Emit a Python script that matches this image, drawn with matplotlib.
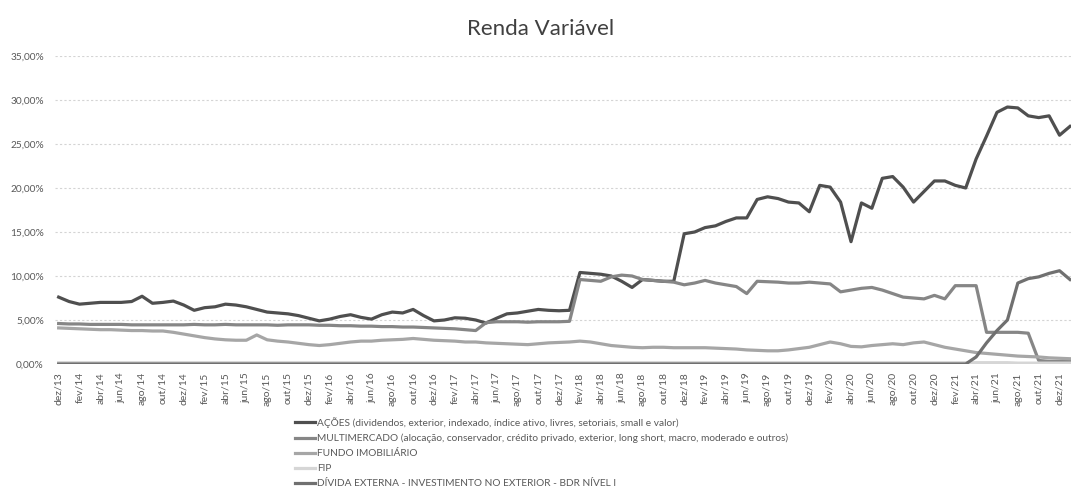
import matplotlib
matplotlib.use("Agg")
import matplotlib.pyplot as plt
import numpy as np

# ======= Data (monthly, dez/13 .. jan/22) =======
meses = ['jan', 'fev', 'mar', 'abr', 'mai', 'jun', 'jul', 'ago', 'set', 'out', 'nov', 'dez']
datas = ['dez/13'] + [f'{m}/{a}' for a in range(14, 22) for m in meses] + ['jan/22']

acoes = [7.6, 7.1, 6.8, 6.9, 7.0, 7.0, 7.0, 7.1, 7.7, 6.9, 7.0, 7.15,
         6.7, 6.1, 6.4, 6.5, 6.8, 6.7, 6.5, 6.2, 5.9, 5.8, 5.7, 5.5,
         5.2, 4.9, 5.1, 5.4, 5.6, 5.3, 5.1, 5.6, 5.9, 5.8, 6.2, 5.5,
         4.9, 5.0, 5.25, 5.2, 5.0, 4.65, 5.2, 5.7, 5.8, 6.0, 6.2, 6.1,
         6.05, 6.1, 10.4, 10.3, 10.2, 10.0, 9.4, 8.7, 9.6, 9.5, 9.4, 9.4,
         14.8, 15.0, 15.5, 15.7, 16.2, 16.6, 16.6, 18.7, 19.0, 18.8, 18.4, 18.3,
         17.3, 20.3, 20.1, 18.4, 13.9, 18.3, 17.7, 21.1, 21.3, 20.1, 18.4, 19.6,
         20.8, 20.8, 20.3, 20.0, 23.3, 25.9, 28.6, 29.2, 29.1, 28.2, 28.0, 28.2,
         26.0, 27.0]

multimercado = [4.6, 4.55, 4.55, 4.5, 4.5, 4.5, 4.5, 4.45, 4.45, 4.45, 4.45, 4.45,
                4.45, 4.5, 4.45, 4.45, 4.5, 4.45, 4.45, 4.45, 4.45, 4.4, 4.45, 4.45,
                4.45, 4.4, 4.4, 4.35, 4.35, 4.3, 4.3, 4.25, 4.25, 4.2, 4.2, 4.15,
                4.1, 4.05, 4.0, 3.9, 3.8, 4.7, 4.8, 4.8, 4.8, 4.75, 4.8, 4.8,
                4.8, 4.85, 9.6, 9.5, 9.4, 9.9, 10.1, 10.0, 9.6, 9.5, 9.4, 9.3,
                9.0, 9.2, 9.5, 9.2, 9.0, 8.8, 8.0, 9.4, 9.35, 9.3, 9.2, 9.2,
                9.3, 9.2, 9.1, 8.2, 8.4, 8.6, 8.7, 8.4, 8.0, 7.6, 7.5, 7.4,
                7.8, 7.4, 8.9, 8.9, 8.9, 3.6, 3.6, 3.6, 3.6, 3.5, 0.4, 0.3,
                0.3, 0.3]

fundo_imob = [4.1, 4.05, 4.0, 3.95, 3.9, 3.9, 3.85, 3.8, 3.8, 3.75, 3.75, 3.6,
              3.4, 3.2, 3.0, 2.85, 2.75, 2.7, 2.7, 3.3, 2.75, 2.6, 2.5, 2.35,
              2.2, 2.1, 2.2, 2.35, 2.5, 2.6, 2.6, 2.7, 2.75, 2.8, 2.9, 2.8,
              2.7, 2.65, 2.6, 2.5, 2.5, 2.4, 2.35, 2.3, 2.25, 2.2, 2.3, 2.4,
              2.45, 2.5, 2.6, 2.5, 2.3, 2.1, 2.0, 1.9, 1.85, 1.9, 1.9, 1.85,
              1.85, 1.85, 1.85, 1.8, 1.75, 1.7, 1.6, 1.55, 1.5, 1.5, 1.6, 1.75,
              1.9, 2.2, 2.5, 2.3, 2.0, 1.95, 2.1, 2.2, 2.3, 2.2, 2.4, 2.5,
              2.2, 1.9, 1.7, 1.5, 1.3, 1.2, 1.1, 1.0, 0.9, 0.85, 0.8, 0.7,
              0.65, 0.6]

fip = [0.15, 0.15, 0.15, 0.15, 0.15, 0.15, 0.15, 0.15, 0.15, 0.15, 0.15, 0.15,
       0.15, 0.15, 0.15, 0.15, 0.15, 0.15, 0.15, 0.15, 0.15, 0.15, 0.15, 0.15,
       0.15, 0.15, 0.15, 0.15, 0.15, 0.15, 0.15, 0.15, 0.15, 0.15, 0.15, 0.15,
       0.15, 0.15, 0.15, 0.15, 0.15, 0.15, 0.15, 0.15, 0.15, 0.15, 0.15, 0.15,
       0.15, 0.15, 0.15, 0.15, 0.15, 0.15, 0.15, 0.15, 0.15, 0.15, 0.15, 0.15,
       0.15, 0.15, 0.15, 0.15, 0.15, 0.15, 0.15, 0.15, 0.15, 0.15, 0.15, 0.15,
       0.15, 0.15, 0.15, 0.15, 0.15, 0.15, 0.15, 0.15, 0.15, 0.15, 0.15, 0.15,
       0.15, 0.15, 0.15, 0.15, 0.15, 0.15, 0.15, 0.15, 0.1, 0.1, 0.1, 0.1,
       0.1, 0.1]

divida_ext = [0.0, 0.0, 0.0, 0.0, 0.0, 0.0, 0.0, 0.0, 0.0, 0.0, 0.0, 0.0,
              0.0, 0.0, 0.0, 0.0, 0.0, 0.0, 0.0, 0.0, 0.0, 0.0, 0.0, 0.0,
              0.0, 0.0, 0.0, 0.0, 0.0, 0.0, 0.0, 0.0, 0.0, 0.0, 0.0, 0.0,
              0.0, 0.0, 0.0, 0.0, 0.0, 0.0, 0.0, 0.0, 0.0, 0.0, 0.0, 0.0,
              0.0, 0.0, 0.0, 0.0, 0.0, 0.0, 0.0, 0.0, 0.0, 0.0, 0.0, 0.0,
              0.0, 0.0, 0.0, 0.0, 0.0, 0.0, 0.0, 0.0, 0.0, 0.0, 0.0, 0.0,
              0.0, 0.0, 0.0, 0.0, 0.0, 0.0, 0.0, 0.0, 0.0, 0.0, 0.0, 0.0,
              0.0, 0.0, 0.0, 0.0, 0.8, 2.4, 3.8, 5.0, 9.2, 9.7, 9.9, 10.3,
              10.6, 9.6]

nomes = ['AÇÕES (dividendos, exterior, indexado, índice ativo, livres, setoriais, small e valor)',
         'MULTIMERCADO (alocação, conservador, crédito privado, exterior, long short, macro, moderado e outros)',
         'FUNDO IMOBILIÁRIO',
         'FIP',
         'DÍVIDA EXTERNA - INVESTIMENTO NO EXTERIOR - BDR NÍVEL I']
cores = ['#4f4f4f', '#868686', '#a6a6a6', '#d6d6d6', '#707070']

plt.rcParams['font.family'] = ['Lato', 'DejaVu Sans']
texto = '#595959'

fig = plt.figure(figsize=(10.71, 5.04), dpi=100)
ax = fig.add_axes([55 / 1071, 1 - 364 / 504, 1 - 55 / 1071, (364 - 56) / 504])

x = np.arange(len(datas))
series = [acoes, multimercado, fundo_imob, fip, divida_ext]
for serie, nome, cor in zip(series, nomes, cores):
    ax.plot(x, serie, color=cor, lw=2.3, label=nome, solid_joinstyle='round')

ax.set_xlim(-0.35, 97.1)
ax.set_ylim(0, 35)
ax.set_yticks(range(0, 36, 5))
ax.set_yticklabels([f'{v},00%' for v in range(0, 36, 5)], fontsize=7.3, color=texto)
ax.set_xticks(x[::2])
ax.set_xticklabels(datas[::2], rotation=90, fontsize=7.5, color=texto)
ax.tick_params(axis='both', length=0)
ax.tick_params(axis='y', pad=8)
ax.tick_params(axis='x', pad=6)
ax.grid(axis='y', color='#d4d4d4', lw=0.8, linestyle=(0, (2, 2)))
ax.set_axisbelow(True)
for s in ax.spines.values():
    s.set_visible(False)

fig.text(0.505, 1 - 29 / 504, 'Renda Variável', ha='center', va='center',
         fontsize=16, color='#404040')

fig.legend(loc='upper left', bbox_to_anchor=(295 / 1071, 1 - 417 / 504),
           frameon=False, fontsize=7.3, labelcolor=texto, handlelength=2.0,
           handletextpad=0.2, labelspacing=0.58, borderpad=0, borderaxespad=0)

fig.savefig('out.png', dpi=100)
